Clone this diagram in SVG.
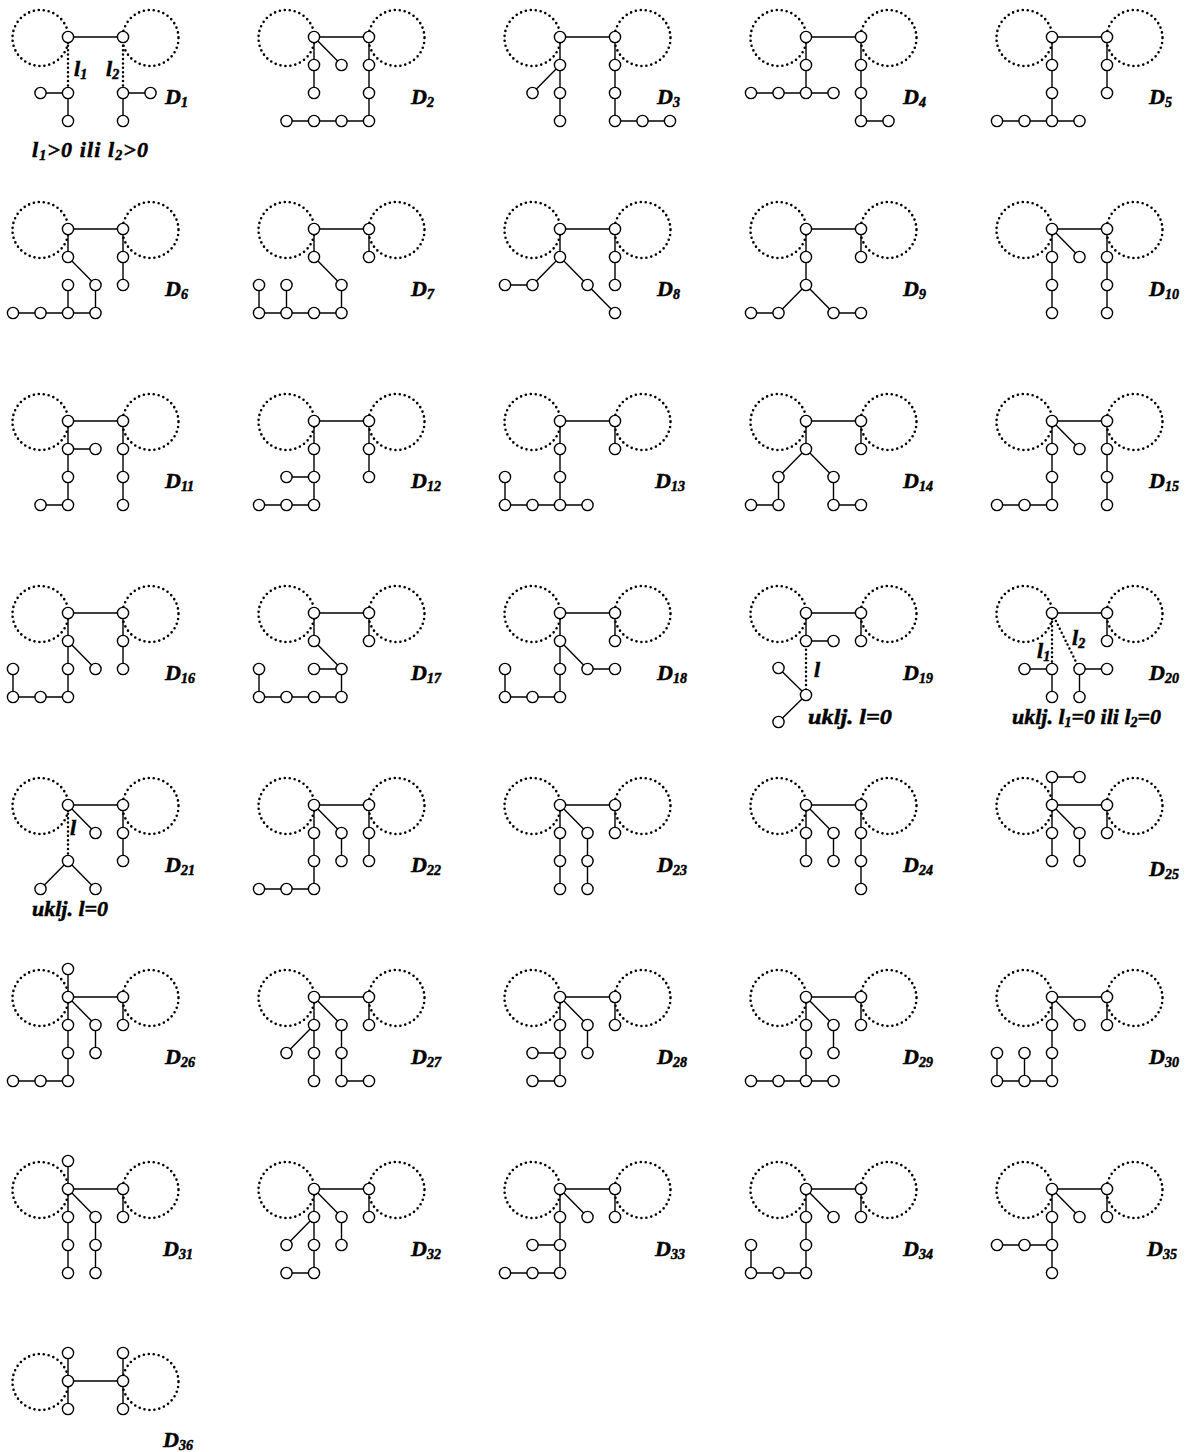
<svg xmlns="http://www.w3.org/2000/svg" xmlns:xlink="http://www.w3.org/1999/xlink" width="1195" height="1452" viewBox="0 0 1195 1452">
<style>
.ring{fill:none;stroke:#000;stroke-width:2.6;stroke-dasharray:0 5;stroke-linecap:round}
.e{fill:none;stroke:#000;stroke-width:1.4}
.d{fill:none;stroke:#000;stroke-width:2.5;stroke-dasharray:0 4.4;stroke-linecap:round}
.v{fill:#fff;stroke:#000;stroke-width:1.4}
text{font-family:"Liberation Serif","Times New Roman",serif;font-weight:bold;font-style:italic;font-size:22px;fill:#000;stroke:#000;stroke-width:0.5}
.s{font-size:14px}
</style>
<defs>
<g id="frame"><circle class="ring" cx="-27.5" cy="1" r="28"/><circle class="ring" cx="82.5" cy="1" r="28"/></g>
<circle id="v" class="v" r="5.6"/>
</defs>
<rect width="1195" height="1452" fill="#fff"/>

<g id="D1" transform="translate(68,37)">
<use href="#frame"/>
<g class="connectors"><path class="e" d="M0 0H55M-27.5 56H0V84M55 84V56H82.5"/><path class="d" d="M0 0V56M55 0V56"/></g>
<use href="#v"/><use href="#v" x="55"/><use href="#v" y="56"/><use href="#v" x="-27.5" y="56"/><use href="#v" y="84"/><use href="#v" x="55" y="56"/><use href="#v" x="82.5" y="56"/><use href="#v" x="55" y="84"/>
<text x="6" y="39">l<tspan class="s" dy="3">1</tspan></text>
<text x="38" y="39">l<tspan class="s" dy="3">2</tspan></text>
<text x="-36" y="120" textLength="116" lengthAdjust="spacing">l<tspan class="s" dy="3">1</tspan><tspan dy="-3">&gt;0 ili l</tspan><tspan class="s" dy="3">2</tspan><tspan dy="-3">&gt;0</tspan></text>
<text x="97" y="67">D<tspan class="s" dy="3">1</tspan></text>
</g>

<g id="D2" transform="translate(314,37)">
<use href="#frame"/>
<g class="connectors"><path class="e" d="M0 0H55M0 0V56M0 0L27.5 28M55 0V84H-27.5"/></g>
<use href="#v"/><use href="#v" x="55"/><use href="#v" y="28"/><use href="#v" y="56"/><use href="#v" x="27.5" y="28"/><use href="#v" x="55" y="28"/><use href="#v" x="55" y="56"/><use href="#v" x="55" y="84"/><use href="#v" x="27.5" y="84"/><use href="#v" y="84"/><use href="#v" x="-27.5" y="84"/>
<text x="97" y="67">D<tspan class="s" dy="3">2</tspan></text>
</g>

<g id="D3" transform="translate(560,37)">
<use href="#frame"/>
<g class="connectors"><path class="e" d="M0 0H55M0 0V84M0 28L-27.5 56M55 0V84H110"/></g>
<use href="#v"/><use href="#v" x="55"/><use href="#v" y="28"/><use href="#v" y="56"/><use href="#v" y="84"/><use href="#v" x="-27.5" y="56"/><use href="#v" x="55" y="28"/><use href="#v" x="55" y="56"/><use href="#v" x="55" y="84"/><use href="#v" x="82.5" y="84"/><use href="#v" x="110" y="84"/>
<text x="97" y="67">D<tspan class="s" dy="3">3</tspan></text>
</g>

<g id="D4" transform="translate(806,37)">
<use href="#frame"/>
<g class="connectors"><path class="e" d="M0 0H55M0 0V56M-55 56H27.5M55 0V84H82.5"/></g>
<use href="#v"/><use href="#v" x="55"/><use href="#v" y="28"/><use href="#v" y="56"/><use href="#v" x="-55" y="56"/><use href="#v" x="-27.5" y="56"/><use href="#v" x="27.5" y="56"/><use href="#v" x="55" y="28"/><use href="#v" x="55" y="56"/><use href="#v" x="55" y="84"/><use href="#v" x="82.5" y="84"/>
<text x="97" y="67">D<tspan class="s" dy="3">4</tspan></text>
</g>

<g id="D5" transform="translate(1052,37)">
<use href="#frame"/>
<g class="connectors"><path class="e" d="M0 0H55M0 0V84M-55 84H27.5M55 0V56"/></g>
<use href="#v"/><use href="#v" x="55"/><use href="#v" y="28"/><use href="#v" y="56"/><use href="#v" y="84"/><use href="#v" x="-55" y="84"/><use href="#v" x="-27.5" y="84"/><use href="#v" x="27.5" y="84"/><use href="#v" x="55" y="28"/><use href="#v" x="55" y="56"/>
<text x="97" y="67">D<tspan class="s" dy="3">5</tspan></text>
</g>

<g id="D6" transform="translate(68,229)">
<use href="#frame"/>
<g class="connectors"><path class="e" d="M0 0H55M0 0V28L27.5 56V84M-55 84H27.5M0 56V84M55 0V56"/></g>
<use href="#v"/><use href="#v" x="55"/><use href="#v" y="28"/><use href="#v" x="27.5" y="56"/><use href="#v" x="27.5" y="84"/><use href="#v" y="56"/><use href="#v" y="84"/><use href="#v" x="-27.5" y="84"/><use href="#v" x="-55" y="84"/><use href="#v" x="55" y="28"/><use href="#v" x="55" y="56"/>
<text x="97" y="67">D<tspan class="s" dy="3">6</tspan></text>
</g>

<g id="D7" transform="translate(314,229)">
<use href="#frame"/>
<g class="connectors"><path class="e" d="M0 0H55M0 0V28L27.5 56V84M-55 84H27.5M-55 56V84M-27.5 56V84M55 0V28"/></g>
<use href="#v"/><use href="#v" x="55"/><use href="#v" y="28"/><use href="#v" x="27.5" y="56"/><use href="#v" x="27.5" y="84"/><use href="#v" y="84"/><use href="#v" x="-27.5" y="84"/><use href="#v" x="-55" y="84"/><use href="#v" x="-55" y="56"/><use href="#v" x="-27.5" y="56"/><use href="#v" x="55" y="28"/>
<text x="97" y="67">D<tspan class="s" dy="3">7</tspan></text>
</g>

<g id="D8" transform="translate(560,229)">
<use href="#frame"/>
<g class="connectors"><path class="e" d="M0 0H55M0 0V28L-27.5 56H-55M0 28L27.5 56L55 84M55 0V56"/></g>
<use href="#v"/><use href="#v" x="55"/><use href="#v" y="28"/><use href="#v" x="-27.5" y="56"/><use href="#v" x="-55" y="56"/><use href="#v" x="27.5" y="56"/><use href="#v" x="55" y="84"/><use href="#v" x="55" y="28"/><use href="#v" x="55" y="56"/>
<text x="97" y="67">D<tspan class="s" dy="3">8</tspan></text>
</g>

<g id="D9" transform="translate(806,229)">
<use href="#frame"/>
<g class="connectors"><path class="e" d="M0 0H55M0 0V56L-27.5 84H-55M0 56L27.5 84H55M55 0V28"/></g>
<use href="#v"/><use href="#v" x="55"/><use href="#v" y="28"/><use href="#v" y="56"/><use href="#v" x="-27.5" y="84"/><use href="#v" x="-55" y="84"/><use href="#v" x="27.5" y="84"/><use href="#v" x="55" y="84"/><use href="#v" x="55" y="28"/>
<text x="97" y="67">D<tspan class="s" dy="3">9</tspan></text>
</g>

<g id="D10" transform="translate(1052,229)">
<use href="#frame"/>
<g class="connectors"><path class="e" d="M0 0H55M0 0V84M0 0L27.5 28M55 0V84"/></g>
<use href="#v"/><use href="#v" x="55"/><use href="#v" y="28"/><use href="#v" y="56"/><use href="#v" y="84"/><use href="#v" x="27.5" y="28"/><use href="#v" x="55" y="28"/><use href="#v" x="55" y="56"/><use href="#v" x="55" y="84"/>
<text x="97" y="67">D<tspan class="s" dy="3">10</tspan></text>
</g>

<g id="D11" transform="translate(68,421)">
<use href="#frame"/>
<g class="connectors"><path class="e" d="M0 0H55M0 0V84H-27.5M0 28H27.5M55 0V84"/></g>
<use href="#v"/><use href="#v" x="55"/><use href="#v" y="28"/><use href="#v" x="27.5" y="28"/><use href="#v" y="56"/><use href="#v" y="84"/><use href="#v" x="-27.5" y="84"/><use href="#v" x="55" y="28"/><use href="#v" x="55" y="56"/><use href="#v" x="55" y="84"/>
<text x="97" y="67">D<tspan class="s" dy="3">11</tspan></text>
</g>

<g id="D12" transform="translate(314,421)">
<use href="#frame"/>
<g class="connectors"><path class="e" d="M0 0H55M0 0V84H-55M0 56H-27.5M55 0V56"/></g>
<use href="#v"/><use href="#v" x="55"/><use href="#v" y="28"/><use href="#v" y="56"/><use href="#v" x="-27.5" y="56"/><use href="#v" y="84"/><use href="#v" x="-27.5" y="84"/><use href="#v" x="-55" y="84"/><use href="#v" x="55" y="28"/><use href="#v" x="55" y="56"/>
<text x="97" y="67">D<tspan class="s" dy="3">12</tspan></text>
</g>

<g id="D13" transform="translate(560,421)">
<use href="#frame"/>
<g class="connectors"><path class="e" d="M0 0H55M0 0V84M-55 84H27.5M-55 56V84M55 0V28"/></g>
<use href="#v"/><use href="#v" x="55"/><use href="#v" y="28"/><use href="#v" y="56"/><use href="#v" y="84"/><use href="#v" x="-27.5" y="84"/><use href="#v" x="-55" y="84"/><use href="#v" x="-55" y="56"/><use href="#v" x="27.5" y="84"/><use href="#v" x="55" y="28"/>
<text x="95" y="67">D<tspan class="s" dy="3">13</tspan></text>
</g>

<g id="D14" transform="translate(806,421)">
<use href="#frame"/>
<g class="connectors"><path class="e" d="M0 0H55M0 0V28L-27.5 56V84H-55M0 28L27.5 56V84H55M55 0V28"/></g>
<use href="#v"/><use href="#v" x="55"/><use href="#v" y="28"/><use href="#v" x="-27.5" y="56"/><use href="#v" x="-27.5" y="84"/><use href="#v" x="-55" y="84"/><use href="#v" x="27.5" y="56"/><use href="#v" x="27.5" y="84"/><use href="#v" x="55" y="84"/><use href="#v" x="55" y="28"/>
<text x="97" y="67">D<tspan class="s" dy="3">14</tspan></text>
</g>

<g id="D15" transform="translate(1052,421)">
<use href="#frame"/>
<g class="connectors"><path class="e" d="M0 0H55M0 0V84H-55M0 0L27.5 28M55 0V84"/></g>
<use href="#v"/><use href="#v" x="55"/><use href="#v" y="28"/><use href="#v" y="56"/><use href="#v" y="84"/><use href="#v" x="-27.5" y="84"/><use href="#v" x="-55" y="84"/><use href="#v" x="27.5" y="28"/><use href="#v" x="55" y="28"/><use href="#v" x="55" y="56"/><use href="#v" x="55" y="84"/>
<text x="97" y="67">D<tspan class="s" dy="3">15</tspan></text>
</g>

<g id="D16" transform="translate(68,613)">
<use href="#frame"/>
<g class="connectors"><path class="e" d="M0 0H55M0 0V84H-55V56M0 28L27.5 56M55 0V56"/></g>
<use href="#v"/><use href="#v" x="55"/><use href="#v" y="28"/><use href="#v" y="56"/><use href="#v" y="84"/><use href="#v" x="-27.5" y="84"/><use href="#v" x="-55" y="84"/><use href="#v" x="-55" y="56"/><use href="#v" x="27.5" y="56"/><use href="#v" x="55" y="28"/><use href="#v" x="55" y="56"/>
<text x="97" y="67">D<tspan class="s" dy="3">16</tspan></text>
</g>

<g id="D17" transform="translate(314,613)">
<use href="#frame"/>
<g class="connectors"><path class="e" d="M0 0H55M0 0V28L27.5 56V84H-55V56M0 56H27.5M55 0V28"/></g>
<use href="#v"/><use href="#v" x="55"/><use href="#v" y="28"/><use href="#v" x="27.5" y="56"/><use href="#v" y="56"/><use href="#v" x="27.5" y="84"/><use href="#v" y="84"/><use href="#v" x="-27.5" y="84"/><use href="#v" x="-55" y="84"/><use href="#v" x="-55" y="56"/><use href="#v" x="55" y="28"/>
<text x="97" y="67">D<tspan class="s" dy="3">17</tspan></text>
</g>

<g id="D18" transform="translate(560,613)">
<use href="#frame"/>
<g class="connectors"><path class="e" d="M0 0H55M0 0V84H-55V56M0 28L27.5 56H55M55 0V28"/></g>
<use href="#v"/><use href="#v" x="55"/><use href="#v" y="28"/><use href="#v" y="56"/><use href="#v" y="84"/><use href="#v" x="-27.5" y="84"/><use href="#v" x="-55" y="84"/><use href="#v" x="-55" y="56"/><use href="#v" x="27.5" y="56"/><use href="#v" x="55" y="56"/><use href="#v" x="55" y="28"/>
<text x="97" y="67">D<tspan class="s" dy="3">18</tspan></text>
</g>

<g id="D19" transform="translate(806,613)">
<use href="#frame"/>
<g class="connectors"><path class="e" d="M0 0H55M0 0V28H27.5M55 0V28M-27.5 55L0 82L-27.5 109"/><path class="d" d="M0 28V82"/></g>
<use href="#v"/><use href="#v" x="55"/><use href="#v" y="28"/><use href="#v" x="27.5" y="28"/><use href="#v" x="55" y="28"/><use href="#v" y="82"/><use href="#v" x="-27.5" y="55"/><use href="#v" x="-27.5" y="109"/>
<text x="8" y="64">l</text>
<text x="2" y="111" textLength="84" lengthAdjust="spacingAndGlyphs">uklj. l=0</text>
<text x="97" y="67">D<tspan class="s" dy="3">19</tspan></text>
</g>

<g id="D20" transform="translate(1052,613)">
<use href="#frame"/>
<g class="connectors"><path class="e" d="M0 0H55M55 0V28M-27.5 56H0V84M27.5 84V56H55"/><path class="d" d="M0 0V56M0 0L27.5 56"/></g>
<use href="#v"/><use href="#v" x="55"/><use href="#v" x="55" y="28"/><use href="#v" y="56"/><use href="#v" x="-27.5" y="56"/><use href="#v" y="84"/><use href="#v" x="27.5" y="56"/><use href="#v" x="55" y="56"/><use href="#v" x="27.5" y="84"/>
<text x="-15" y="45">l<tspan class="s" dy="3">1</tspan></text>
<text x="20" y="32">l<tspan class="s" dy="3">2</tspan></text>
<text x="-40" y="111">uklj. l<tspan class="s" dy="3">1</tspan><tspan dy="-3">=0 ili l</tspan><tspan class="s" dy="3">2</tspan><tspan dy="-3">=0</tspan></text>
<text x="97" y="67">D<tspan class="s" dy="3">20</tspan></text>
</g>

<g id="D21" transform="translate(68,805)">
<use href="#frame"/>
<g class="connectors"><path class="e" d="M0 0H55M0 0L27.5 28M-27.5 84L0 56L27.5 84M55 0V56"/><path class="d" d="M0 0V56"/></g>
<use href="#v"/><use href="#v" x="55"/><use href="#v" x="27.5" y="28"/><use href="#v" y="56"/><use href="#v" x="-27.5" y="84"/><use href="#v" x="27.5" y="84"/><use href="#v" x="55" y="28"/><use href="#v" x="55" y="56"/>
<text x="2" y="30">l</text>
<text x="-36" y="111">uklj. l=0</text>
<text x="97" y="67">D<tspan class="s" dy="3">21</tspan></text>
</g>

<g id="D22" transform="translate(314,805)">
<use href="#frame"/>
<g class="connectors"><path class="e" d="M0 0H55M0 0V84H-55M0 0L27.5 28V56M55 0V56"/></g>
<use href="#v"/><use href="#v" x="55"/><use href="#v" y="28"/><use href="#v" y="56"/><use href="#v" y="84"/><use href="#v" x="-27.5" y="84"/><use href="#v" x="-55" y="84"/><use href="#v" x="27.5" y="28"/><use href="#v" x="27.5" y="56"/><use href="#v" x="55" y="28"/><use href="#v" x="55" y="56"/>
<text x="97" y="67">D<tspan class="s" dy="3">22</tspan></text>
</g>

<g id="D23" transform="translate(560,805)">
<use href="#frame"/>
<g class="connectors"><path class="e" d="M0 0H55M0 0V84M0 0L27.5 28V84M55 0V28"/></g>
<use href="#v"/><use href="#v" x="55"/><use href="#v" y="28"/><use href="#v" y="56"/><use href="#v" y="84"/><use href="#v" x="27.5" y="28"/><use href="#v" x="27.5" y="56"/><use href="#v" x="27.5" y="84"/><use href="#v" x="55" y="28"/>
<text x="97" y="67">D<tspan class="s" dy="3">23</tspan></text>
</g>

<g id="D24" transform="translate(806,805)">
<use href="#frame"/>
<g class="connectors"><path class="e" d="M0 0H55M0 0V56M0 0L27.5 28V56M55 0V84"/></g>
<use href="#v"/><use href="#v" x="55"/><use href="#v" y="28"/><use href="#v" y="56"/><use href="#v" x="27.5" y="28"/><use href="#v" x="27.5" y="56"/><use href="#v" x="55" y="28"/><use href="#v" x="55" y="56"/><use href="#v" x="55" y="84"/>
<text x="97" y="67">D<tspan class="s" dy="3">24</tspan></text>
</g>

<g id="D25" transform="translate(1052,805)">
<use href="#frame"/>
<g class="connectors"><path class="e" d="M0 0H55M27.5 -28H0V56M0 0L27.5 28V56M55 0V28"/></g>
<use href="#v"/><use href="#v" x="55"/><use href="#v" y="-28"/><use href="#v" x="27.5" y="-28"/><use href="#v" y="28"/><use href="#v" y="56"/><use href="#v" x="27.5" y="28"/><use href="#v" x="27.5" y="56"/><use href="#v" x="55" y="28"/>
<text x="97" y="71">D<tspan class="s" dy="3">25</tspan></text>
</g>

<g id="D26" transform="translate(68,997)">
<use href="#frame"/>
<g class="connectors"><path class="e" d="M0 0H55M0 -28V84H-55M0 0L27.5 28V56M55 0V28"/></g>
<use href="#v"/><use href="#v" x="55"/><use href="#v" y="-28"/><use href="#v" y="28"/><use href="#v" y="56"/><use href="#v" y="84"/><use href="#v" x="-27.5" y="84"/><use href="#v" x="-55" y="84"/><use href="#v" x="27.5" y="28"/><use href="#v" x="27.5" y="56"/><use href="#v" x="55" y="28"/>
<text x="97" y="67">D<tspan class="s" dy="3">26</tspan></text>
</g>

<g id="D27" transform="translate(314,997)">
<use href="#frame"/>
<g class="connectors"><path class="e" d="M0 0H55M0 0V84M0 28L-27.5 56M0 0L27.5 28V84H55M55 0V28"/></g>
<use href="#v"/><use href="#v" x="55"/><use href="#v" y="28"/><use href="#v" y="56"/><use href="#v" y="84"/><use href="#v" x="-27.5" y="56"/><use href="#v" x="27.5" y="28"/><use href="#v" x="27.5" y="56"/><use href="#v" x="27.5" y="84"/><use href="#v" x="55" y="84"/><use href="#v" x="55" y="28"/>
<text x="97" y="67">D<tspan class="s" dy="3">27</tspan></text>
</g>

<g id="D28" transform="translate(560,997)">
<use href="#frame"/>
<g class="connectors"><path class="e" d="M0 0H55M0 0V84H-27.5M0 56H-27.5M0 0L27.5 28V56M55 0V28"/></g>
<use href="#v"/><use href="#v" x="55"/><use href="#v" y="28"/><use href="#v" y="56"/><use href="#v" y="84"/><use href="#v" x="-27.5" y="56"/><use href="#v" x="-27.5" y="84"/><use href="#v" x="27.5" y="28"/><use href="#v" x="27.5" y="56"/><use href="#v" x="55" y="28"/>
<text x="97" y="67">D<tspan class="s" dy="3">28</tspan></text>
</g>

<g id="D29" transform="translate(806,997)">
<use href="#frame"/>
<g class="connectors"><path class="e" d="M0 0H55M0 0V84M-55 84H27.5M0 0L27.5 28V56M55 0V28"/></g>
<use href="#v"/><use href="#v" x="55"/><use href="#v" y="28"/><use href="#v" y="56"/><use href="#v" y="84"/><use href="#v" x="-27.5" y="84"/><use href="#v" x="-55" y="84"/><use href="#v" x="27.5" y="84"/><use href="#v" x="27.5" y="28"/><use href="#v" x="27.5" y="56"/><use href="#v" x="55" y="28"/>
<text x="97" y="67">D<tspan class="s" dy="3">29</tspan></text>
</g>

<g id="D30" transform="translate(1052,997)">
<use href="#frame"/>
<g class="connectors"><path class="e" d="M0 0H55M0 0V84H-55V56M-27.5 56V84M0 0L27.5 28M55 0V28"/></g>
<use href="#v"/><use href="#v" x="55"/><use href="#v" y="28"/><use href="#v" y="56"/><use href="#v" y="84"/><use href="#v" x="-27.5" y="84"/><use href="#v" x="-55" y="84"/><use href="#v" x="-55" y="56"/><use href="#v" x="-27.5" y="56"/><use href="#v" x="27.5" y="28"/><use href="#v" x="55" y="28"/>
<text x="97" y="67">D<tspan class="s" dy="3">30</tspan></text>
</g>

<g id="D31" transform="translate(68,1189)">
<use href="#frame"/>
<g class="connectors"><path class="e" d="M0 0H55M0 -28V84M0 0L27.5 28V84M55 0V28"/></g>
<use href="#v"/><use href="#v" x="55"/><use href="#v" y="-28"/><use href="#v" y="28"/><use href="#v" y="56"/><use href="#v" y="84"/><use href="#v" x="27.5" y="28"/><use href="#v" x="27.5" y="56"/><use href="#v" x="27.5" y="84"/><use href="#v" x="55" y="28"/>
<text x="95" y="67">D<tspan class="s" dy="3">31</tspan></text>
</g>

<g id="D32" transform="translate(314,1189)">
<use href="#frame"/>
<g class="connectors"><path class="e" d="M0 0H55M0 0V84H-27.5M0 28L-27.5 56M0 0L27.5 28V56M55 0V28"/></g>
<use href="#v"/><use href="#v" x="55"/><use href="#v" y="28"/><use href="#v" y="56"/><use href="#v" y="84"/><use href="#v" x="-27.5" y="84"/><use href="#v" x="-27.5" y="56"/><use href="#v" x="27.5" y="28"/><use href="#v" x="27.5" y="56"/><use href="#v" x="55" y="28"/>
<text x="97" y="67">D<tspan class="s" dy="3">32</tspan></text>
</g>

<g id="D33" transform="translate(560,1189)">
<use href="#frame"/>
<g class="connectors"><path class="e" d="M0 0H55M0 0V84H-55M0 56H-27.5M0 0L27.5 28M55 0V28"/></g>
<use href="#v"/><use href="#v" x="55"/><use href="#v" y="28"/><use href="#v" y="56"/><use href="#v" y="84"/><use href="#v" x="-27.5" y="56"/><use href="#v" x="-27.5" y="84"/><use href="#v" x="-55" y="84"/><use href="#v" x="27.5" y="28"/><use href="#v" x="55" y="28"/>
<text x="95" y="67">D<tspan class="s" dy="3">33</tspan></text>
</g>

<g id="D34" transform="translate(806,1189)">
<use href="#frame"/>
<g class="connectors"><path class="e" d="M0 0H55M0 0V84H-55V56M0 0L27.5 28M55 0V28"/></g>
<use href="#v"/><use href="#v" x="55"/><use href="#v" y="28"/><use href="#v" y="56"/><use href="#v" y="84"/><use href="#v" x="-27.5" y="84"/><use href="#v" x="-55" y="84"/><use href="#v" x="-55" y="56"/><use href="#v" x="27.5" y="28"/><use href="#v" x="55" y="28"/>
<text x="97" y="67">D<tspan class="s" dy="3">34</tspan></text>
</g>

<g id="D35" transform="translate(1052,1189)">
<use href="#frame"/>
<g class="connectors"><path class="e" d="M0 0H55M0 0V84M0 56H-55M0 0L27.5 28M55 0V28"/></g>
<use href="#v"/><use href="#v" x="55"/><use href="#v" y="28"/><use href="#v" y="56"/><use href="#v" y="84"/><use href="#v" x="-27.5" y="56"/><use href="#v" x="-55" y="56"/><use href="#v" x="27.5" y="28"/><use href="#v" x="55" y="28"/>
<text x="95" y="67">D<tspan class="s" dy="3">35</tspan></text>
</g>

<g id="D36" transform="translate(68,1381)">
<use href="#frame"/>
<g class="connectors"><path class="e" d="M0 0H55M0 -28V28M55 -28V28"/></g>
<use href="#v"/><use href="#v" x="55"/><use href="#v" y="-28"/><use href="#v" y="28"/><use href="#v" x="55" y="-28"/><use href="#v" x="55" y="28"/>
<text x="95" y="66">D<tspan class="s" dy="3">36</tspan></text>
</g>
</svg>
